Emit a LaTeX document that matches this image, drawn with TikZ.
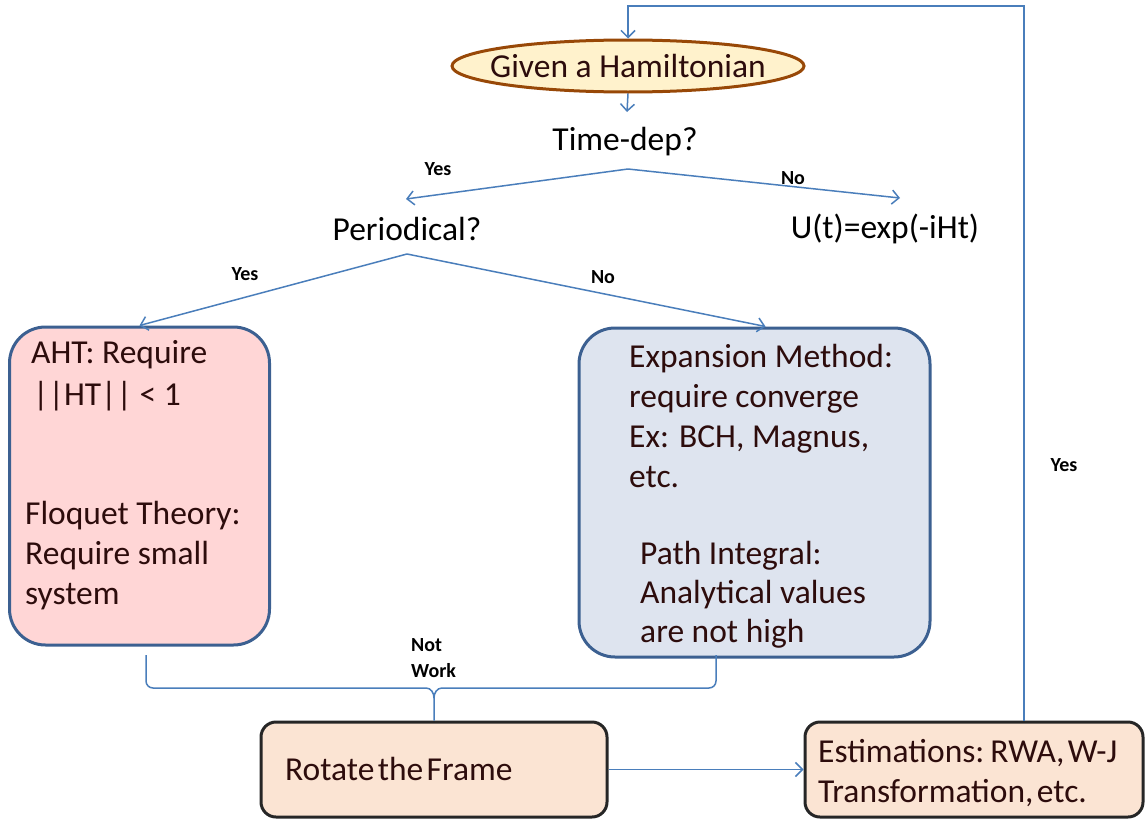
\documentclass[tikz,border=0pt]{standalone}
\usepackage{fontspec}
\setmainfont{Carlito}
\newfontfamily\tightfont[WordSpace=0.45]{Carlito}
\usetikzlibrary{shapes.geometric,arrows.meta}
\definecolor{lineblue}{RGB}{74,126,187}
\definecolor{boxblue}{RGB}{60,96,145}
\definecolor{pinkfill}{RGB}{255,214,214}
\definecolor{bluefill}{RGB}{222,228,239}
\definecolor{peach}{RGB}{251,228,211}
\definecolor{yellowfill}{RGB}{255,242,204}
\definecolor{brownline}{RGB}{152,72,7}
\definecolor{txtdark}{RGB}{45,12,12}
\begin{document}
\begin{tikzpicture}[x=1pt,y=-1pt,
 big/.style={font=\fontsize{33.5}{40}\selectfont, inner sep=0pt},
 txt/.style={big, anchor=base west, text=txtdark},
 tighttxt/.style={txt, font=\tightfont\fontsize{33.5}{40}\selectfont},
 small/.style={font=\fontsize{20}{26}\selectfont\bfseries, inner sep=0pt},
 arr/.style={draw=lineblue, line width=1.5pt, -{Straight Barb[length=7pt,width=14pt]}},
 conn/.style={draw=lineblue, line width=1.5pt},
 methodbox/.style={draw=boxblue, line width=3pt, rounded corners=36pt, inner sep=0pt},
 stepbox/.style={draw=black!85, line width=3pt, rounded corners=15pt, fill=peach, inner sep=0pt, minimum width=346pt, minimum height=95pt},
]
\useasboundingbox (0,0) rectangle (1145,819);

% nodes
\node[ellipse, draw=brownline, line width=3pt, fill=yellowfill, minimum width=352pt, minimum height=52pt, inner sep=0pt] (ham) at (628,66) {};
\node[big, text=txtdark] (hamtxt) at (ham.center) {Given a Hamiltonian};
\node[big] (td) at (625,142) {Time-dep?};
\node[big] (per) at (407,229) {Periodical?};
\node[big] (ut) at (885,229) {U(t)=exp(-iHt)};

\node[methodbox, fill=pinkfill, minimum width=260pt, minimum height=318pt] (aht) at (139.5,486) {};
\node[methodbox, fill=bluefill, minimum width=351pt, minimum height=329pt] (exp) at (754.5,492.5) {};
\node[stepbox] (rot) at (434,769.5) {};
\node[stepbox, minimum width=338pt] (est) at (974,769.5) {};

% texts in the pink box
\node[txt] (a1) at (31,363) {AHT: Require};
\node[txt] (a2) at (33,405) {{|}{|}HT{|}{|} < 1};
\node[txt] (a3) at (25,524) {Floquet Theory:};
\node[txt] (a4) at (25,564) {Require small};
\node[txt] (a5) at (25,604) {system};

% texts in the blue box
\node[txt] (b1) at (629,367) {Expansion Method:};
\node[txt] (b2) at (629,407) {require converge};
\node[txt] (b3) at (629,447) {Ex: BCH, Magnus,};
\node[txt] (b4) at (629,487) {etc.};
\node[txt] (b5) at (640,564) {Path Integral:};
\node[txt] (b6) at (640,603) {Analytical values};
\node[txt] (b7) at (640,642) {are not high};

% texts in the bottom boxes
\node[tighttxt] (r1) at (285,780) {Rotate the Frame};
\node[tighttxt] (e1) at (818,762) {Estimations: RWA, W-J};
\node[tighttxt] (e2) at (818,802) {Transformation, etc.};

% labels
\node[small] (yes1) at (438,169) {Yes};
\node[small] (no1) at (793,178) {No};
\node[small] (yes2) at (245,274) {Yes};
\node[small] (no2) at (603,277) {No};
\node[small, align=left, anchor=west] (nw) at (411,658) {Not\\Work};
\node[small] (yes3) at (1064,465) {Yes};

% coordinates
\coordinate (tdIn) at (627,112);
\coordinate (tdOut) at (628,169);
\coordinate (perIn) at (406,199);
\coordinate (utIn) at (900,198);
\coordinate (perOut) at (407,254);
\coordinate (bL) at (146,655);
\coordinate (bR) at (716,655);
\coordinate (loopTop) at (628,6);

% connectors
\draw[arr] (ham.south) -- (tdIn);
\draw[arr] (tdOut) -- (perIn);
\draw[arr] (tdOut) -- (utIn);
\draw[arr] (perOut) -- (aht.north);
\draw[arr] (perOut) -- ([xshift=11pt]exp.north);
\draw[conn] (bL) -- (146,681) to[out=-90,in=180] (153,688) -- (426,688) to[out=0,in=90] (rot.north |- 0,698) -- (rot.north);
\draw[conn] (rot.north |- 0,698) to[out=90,in=180] (442,688) -- (709,688) to[out=0,in=-90] (bR |- 0,681) -- (bR);
\draw[arr] (rot.east) -- (est.west);
\draw[arr] ([xshift=50pt]est.north) |- (loopTop) -- (ham.north);
\end{tikzpicture}
\end{document}
